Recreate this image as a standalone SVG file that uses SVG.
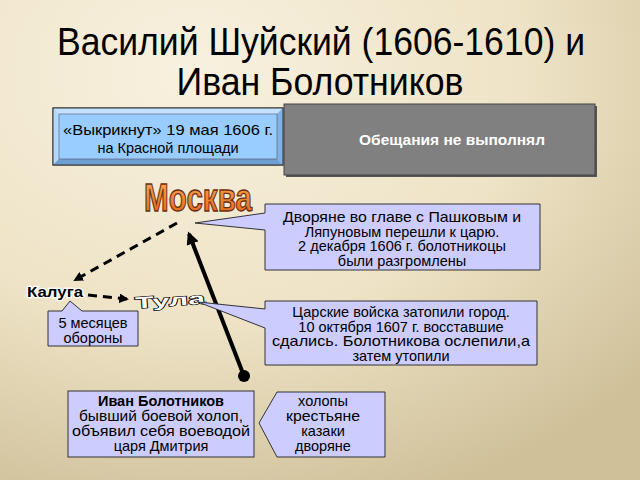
<svg xmlns="http://www.w3.org/2000/svg" width="640" height="480" viewBox="0 0 640 480">
  <defs>
    <radialGradient id="bg" cx="0.3" cy="0.15" r="0.95" fx="0.3" fy="0.15">
      <stop offset="0" stop-color="#f8f1df"/>
      <stop offset="0.55" stop-color="#eee3c6"/>
      <stop offset="1" stop-color="#cfc099"/>
    </radialGradient>
    <linearGradient id="msk" x1="0" y1="0" x2="0" y2="1">
      <stop offset="0" stop-color="#ffb050"/>
      <stop offset="1" stop-color="#e0601a"/>
    </linearGradient>
    <marker id="arr" viewBox="0 0 10 10" refX="8" refY="5" markerWidth="3.2" markerHeight="3.2" orient="auto" markerUnits="strokeWidth">
      <path d="M0,0 L10,5 L0,10 Z" fill="#000"/>
    </marker>
  </defs>
  <style>
    text { font-family: "Liberation Sans", Arial, sans-serif; }
    .t { font-size: 14.5px; fill: #000; text-anchor: middle; }
    .call { fill: #ccccff; stroke: #333; stroke-width: 1; }
    .dash { fill: none; stroke: #000; stroke-width: 3; stroke-dasharray: 9 6; }
  </style>

  <rect x="0" y="0" width="640" height="480" fill="url(#bg)"/>

  <g id="title" font-size="38" text-anchor="middle" fill="#000">
    <text x="321" y="55" textLength="528" lengthAdjust="spacingAndGlyphs" style="font-family:'Liberation Sans Narrow','Liberation Sans',sans-serif">Василий Шуйский (1606-1610) и</text>
    <text x="320" y="95" textLength="287" lengthAdjust="spacingAndGlyphs" style="font-family:'Liberation Sans Narrow','Liberation Sans',sans-serif">Иван Болотников</text>
  </g>

  <g id="node-vykriknut">
    <rect x="53" y="108" width="230" height="57" fill="#99ccff" stroke="#333" stroke-width="1"/>
    <path d="M53,108 H283 L277,114 H59 Z" fill="#c4e2ff"/>
    <path d="M53,108 L59,114 V159 L53,165 Z" fill="#b3d8ff"/>
    <path d="M53,165 L59,159 H277 L283,165 Z" fill="#6f9fd0"/>
    <path d="M283,108 V165 L277,159 V114 Z" fill="#80b2e4"/>
    <rect x="53" y="108" width="230" height="57" fill="none" stroke="#333" stroke-width="1"/>
    <rect x="59" y="114" width="218" height="45" fill="none" stroke="#556" stroke-width="0.6"/>
    <text class="t" x="168" y="135" textLength="210" lengthAdjust="spacingAndGlyphs">«Выкрикнут» 19 мая 1606 г.</text>
    <text class="t" x="168" y="153">на Красной площади</text>
  </g>

  <g id="node-obeshchaniya">
    <rect x="286" y="106" width="311" height="71" fill="#555"/>
    <rect x="284" y="104" width="311" height="71" fill="#808080" stroke="#444" stroke-width="1"/>
    <text x="452" y="145" text-anchor="middle" font-size="15.5" font-weight="bold" fill="#fff">Обещания не выполнял</text>
  </g>

  <g id="node-moskva">
    <text transform="translate(198,211) scale(1,1.3)" x="0" y="0" text-anchor="middle" font-size="30" font-weight="bold" fill="url(#msk)" stroke="#6b2e10" stroke-width="1" textLength="108" lengthAdjust="spacingAndGlyphs">Москва</text>
  </g>

  <g id="node-kaluga">
    <text x="55" y="297" text-anchor="middle" font-size="15" font-weight="bold" fill="#000" stroke="#fff" stroke-width="2.5" paint-order="stroke" textLength="56" lengthAdjust="spacingAndGlyphs">Калуга</text>
  </g>

  <g id="node-tula">
    <text x="170" y="306" text-anchor="middle" font-size="16" font-weight="bold" fill="#fff" stroke="#000" stroke-width="1.2" paint-order="stroke" textLength="70" lengthAdjust="spacingAndGlyphs" transform="rotate(-4 170 300)">Тула</text>
  </g>

  <g id="connectors">
    <path class="dash" d="M177,223 L75,280" marker-end="url(#arr)"/>
    <path class="dash" d="M88,295 L127,299" marker-end="url(#arr)"/>
    <path d="M244,376 L189,234" fill="none" stroke="#000" stroke-width="4" marker-end="url(#arr)"/>
    <circle cx="244" cy="376" r="6" fill="#000"/>
  </g>

  <g id="node-dvoryane">
    <path class="call" d="M265,204 H540 V270 H265 V230 L195,223 L265,213 Z"/>
    <text class="t" x="402" y="222" textLength="238" lengthAdjust="spacingAndGlyphs">Дворяне во главе с Пашковым и</text>
    <text class="t" x="402" y="236.7">Ляпуновым перешли к царю.</text>
    <text class="t" x="402" y="251.4">2 декабря 1606 г. болотникоцы</text>
    <text class="t" x="402" y="266">были разгромлены</text>
  </g>

  <g id="node-tsarskie">
    <path class="call" d="M265,301 H537 V365 H265 V328 L198,302 L265,309 Z"/>
    <text class="t" x="401" y="317">Царские войска затопили город.</text>
    <text class="t" x="401" y="331.5">10 октября 1607 г. восставшие</text>
    <text class="t" x="401" y="346" textLength="258" lengthAdjust="spacingAndGlyphs">сдались. Болотникова ослепили,а</text>
    <text class="t" x="401" y="360.5">затем утопили</text>
  </g>

  <g id="node-5mes">
    <path class="call" d="M48,311 H62 L70,301 L82,311 H138 V346 H48 Z"/>
    <text class="t" x="93" y="328">5 месяцев</text>
    <text class="t" x="93" y="343">обороны</text>
  </g>

  <g id="node-bolotnikov">
    <rect class="call" x="68" y="391" width="186" height="66"/>
    <text class="t" x="161" y="406" font-weight="bold">Иван Болотников</text>
    <text class="t" x="161" y="421" textLength="164" lengthAdjust="spacingAndGlyphs">бывший боевой холоп,</text>
    <text class="t" x="161" y="436" textLength="178" lengthAdjust="spacingAndGlyphs">объявил себя воеводой</text>
    <text class="t" x="161" y="451">царя Дмитрия</text>
  </g>

  <g id="node-kholopy">
    <path class="call" d="M277,392 H385 V457 H277 L259,423 Z"/>
    <text class="t" x="323" y="406">холопы</text>
    <text class="t" x="323" y="421" textLength="74" lengthAdjust="spacingAndGlyphs">крестьяне</text>
    <text class="t" x="323" y="436">казаки</text>
    <text class="t" x="323" y="451">дворяне</text>
  </g>
</svg>
